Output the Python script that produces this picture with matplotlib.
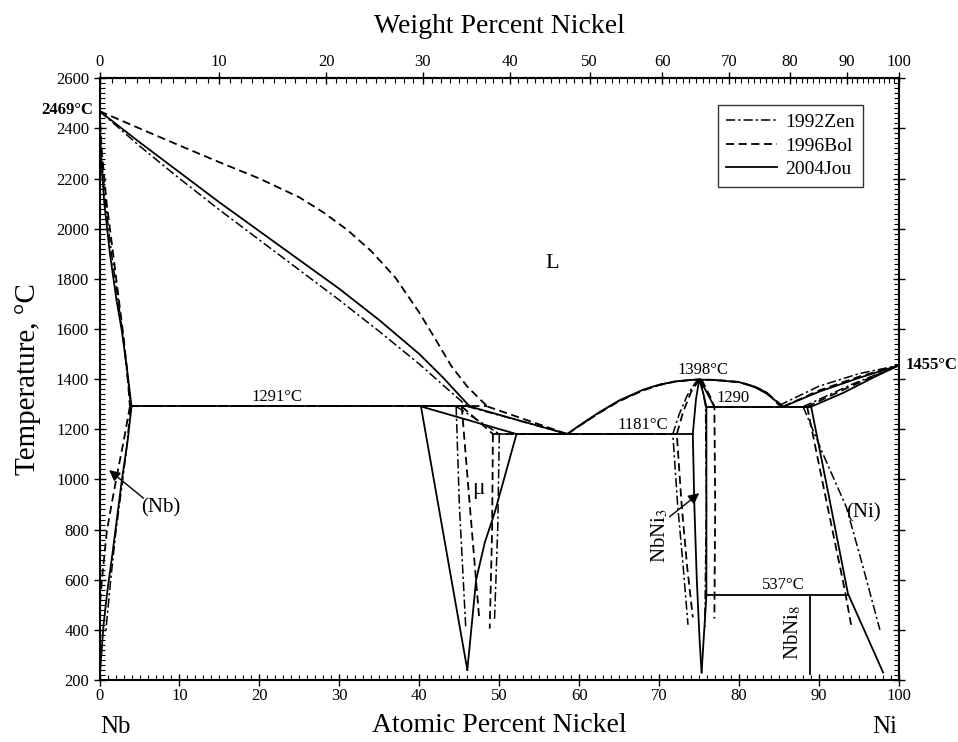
import matplotlib
matplotlib.use("Agg")
import matplotlib.pyplot as plt
from matplotlib.lines import Line2D
from matplotlib.ticker import MultipleLocator
import numpy as np

plt.rcParams['font.family'] = ['Liberation Serif', 'DejaVu Serif']
plt.rcParams['mathtext.fontset'] = 'stix'

# ---------------- 2004Jou (solid) ----------------
JOU_LIQ1_X = [0, 5, 10, 15, 20, 25, 30, 35, 40, 43, 46.3]
JOU_LIQ1_T = [2469, 2345, 2225, 2105, 1990, 1875, 1760, 1635, 1500, 1405, 1291]
JOU_LIQ2_X = [46.3, 58.5]
JOU_LIQ2_T = [1291, 1181]
JOU_LIQ3_X = [58.5, 60, 62.5, 65, 68, 70, 72, 74, 75, 77, 80, 82, 83.4, 85.5]
JOU_LIQ3_T = [1181, 1215, 1268, 1315, 1358, 1378, 1391, 1397, 1398, 1396, 1388, 1367, 1343, 1290]
JOU_LIQ4_X = [85.5, 90, 95, 100]
JOU_LIQ4_T = [1290, 1350, 1405, 1455]
JOU_NISOL_X = [89, 93, 97, 100]
JOU_NISOL_T = [1290, 1345, 1410, 1455]
JOU_NBSOL_X = [0, 0.15, 0.6, 1.3, 2.1, 2.8, 3.4, 4.0]
JOU_NBSOL_T = [2469, 2300, 2100, 1900, 1720, 1590, 1450, 1291]
JOU_NBSV_X = [4.0, 3.5, 2.8, 2.2, 1.6, 1.0, 0.5, 0.05]
JOU_NBSV_T = [1291, 1150, 1000, 850, 700, 560, 420, 225]
JOU_E1291_X = [4.0, 46.3]
JOU_E1291_T = [1291, 1291]
JOU_MUL_X = [40.2, 46.0]
JOU_MUL_T = [1291, 240]
JOU_MUR_X = [46.0, 47.1, 48.2, 49.4, 52.15]
JOU_MUR_T = [240, 600, 750, 865, 1181]
JOU_MUT_X = [40.2, 52.15]
JOU_MUT_T = [1291, 1181]
JOU_E1181_X = [52.15, 74.2]
JOU_E1181_T = [1181, 1181]
JOU_N3L_X = [75.0, 74.6, 74.2, 74.4, 74.7, 75.05, 75.3]
JOU_N3L_T = [1398, 1320, 1181, 890, 600, 360, 230]
JOU_N3R_X = [75.0, 75.5, 75.9, 75.9, 75.3]
JOU_N3R_T = [1398, 1345, 1290, 537, 230]
JOU_N3D_X = [75.1, 76.9]
JOU_N3D_T = [1398, 1290]
JOU_E1290_X = [75.9, 89.0]
JOU_E1290_T = [1290, 1290]
JOU_NISV_X = [89.0, 91.3, 93.6, 98.0]
JOU_NISV_T = [1290, 920, 545, 230]
JOU_E537_X = [75.9, 93.6]
JOU_E537_T = [537, 537]
JOU_N8_X = [88.9, 88.9]
JOU_N8_T = [537, 225]

# ---------------- 1996Bol (dashed) ----------------
BOL_LIQ1_X = [0, 5, 10, 15, 20, 25, 28, 31, 34, 37, 40, 42, 44, 46, 48.5]
BOL_LIQ1_T = [2469, 2400, 2332, 2265, 2200, 2125, 2065, 1995, 1910, 1805, 1665, 1560, 1452, 1370, 1291]
BOL_LIQ2_X = [48.5, 58.5]
BOL_LIQ2_T = [1291, 1181]
BOL_LIQ3_X = [58.5, 60, 62.5, 65, 68, 70, 72, 74, 75, 77, 80, 82, 83.4, 85.5]
BOL_LIQ3_T = [1181, 1213, 1265, 1312, 1355, 1376, 1390, 1397, 1399, 1397, 1389, 1370, 1347, 1290]
BOL_LIQ4_X = [85.5, 90, 95, 100]
BOL_LIQ4_T = [1290, 1355, 1410, 1455]
BOL_NISOL_X = [88.5, 94, 100]
BOL_NISOL_T = [1290, 1372, 1455]
BOL_NBSOL_X = [0, 0.3, 0.9, 1.7, 2.4, 3.0, 3.4, 3.8]
BOL_NBSOL_T = [2469, 2300, 2100, 1900, 1720, 1570, 1450, 1291]
BOL_NBSV_X = [3.8, 3.0, 2.2, 1.5, 0.9, 0.3, 0.05]
BOL_NBSV_T = [1291, 1150, 1020, 900, 790, 600, 500]
BOL_E1291_X = [3.8, 48.5]
BOL_E1291_T = [1291, 1291]
BOL_MUL_X = [45.3, 46.3, 47.5]
BOL_MUL_T = [1291, 900, 440]
BOL_MUT_X = [45.3, 49.2]
BOL_MUT_T = [1291, 1181]
BOL_MUR_X = [49.2, 49.1, 48.8]
BOL_MUR_T = [1181, 800, 405]
BOL_E1181_X = [49.2, 72.2]
BOL_E1181_T = [1181, 1181]
BOL_N3L_X = [75.0, 74.0, 73.0, 72.2, 72.8, 73.5, 74.2]
BOL_N3L_T = [1398, 1350, 1270, 1181, 900, 650, 450]
BOL_N3R_X = [75.3, 76.3, 76.9, 77.0, 76.9]
BOL_N3R_T = [1398, 1335, 1290, 900, 445]
BOL_E1290_X = [76.9, 88.5]
BOL_E1290_T = [1290, 1290]
BOL_NISV_X = [88.5, 91.0, 93.2, 94.0]
BOL_NISV_T = [1290, 900, 560, 420]

# ---------------- 1992Zen (dash-dot) ----------------
ZEN_LIQ1_X = [0, 5, 10, 15, 20, 25, 30, 35, 40, 43, 46.0]
ZEN_LIQ1_T = [2469, 2330, 2200, 2075, 1955, 1835, 1715, 1590, 1460, 1375, 1291]
ZEN_LIQ2_X = [46.0, 58.5]
ZEN_LIQ2_T = [1291, 1181]
ZEN_LIQ3_X = [58.5, 60, 62.5, 65, 68, 70, 72, 74, 75, 77, 80, 82, 83.4, 85.0]
ZEN_LIQ3_T = [1181, 1214, 1266, 1314, 1356, 1377, 1390, 1396, 1398, 1396, 1387, 1370, 1348, 1295]
ZEN_LIQ4_X = [85.0, 90, 95, 100]
ZEN_LIQ4_T = [1295, 1372, 1422, 1455]
ZEN_NISOL_X = [88.0, 94, 100]
ZEN_NISOL_T = [1290, 1378, 1455]
ZEN_NBSOL_X = [0, 0.2, 0.75, 1.5, 2.3, 2.9, 3.9]
ZEN_NBSOL_T = [2469, 2300, 2100, 1900, 1720, 1580, 1291]
ZEN_NBSV_X = [3.9, 3.3, 2.7, 2.0, 1.4, 0.8]
ZEN_NBSV_T = [1291, 1100, 950, 780, 600, 400]
ZEN_E1291_X = [3.9, 46.0]
ZEN_E1291_T = [1291, 1291]
ZEN_MUL_X = [44.6, 45.0, 45.8]
ZEN_MUL_T = [1291, 900, 410]
ZEN_MUT_X = [44.6, 50.0]
ZEN_MUT_T = [1291, 1181]
ZEN_MUR_X = [50.0, 49.8, 49.4]
ZEN_MUR_T = [1181, 800, 440]
ZEN_E1181_X = [50.0, 71.7]
ZEN_E1181_T = [1181, 1181]
ZEN_N3L_X = [75.0, 74.5, 73.5, 72.5, 71.7, 72.3, 73.0, 73.6]
ZEN_N3L_T = [1398, 1385, 1335, 1260, 1181, 900, 650, 420]
ZEN_N3R_X = [75.2, 75.8, 75.9, 75.7]
ZEN_N3R_T = [1398, 1290, 900, 410]
ZEN_E1290_X = [75.8, 88.0]
ZEN_E1290_T = [1290, 1290]
ZEN_NISV_X = [88.0, 90.5, 93.4, 95.5, 97.6]
ZEN_NISV_T = [1290, 1100, 890, 650, 400]

X_TICKS = [0, 10, 20, 30, 40, 50, 60, 70, 80, 90, 100]
T_TICKS = [200, 400, 600, 800, 1000, 1200, 1400, 1600, 1800, 2000, 2200, 2400, 2600]
WT_TICKS = [0, 10, 20, 30, 40, 50, 60, 70, 80, 90, 100]
LEGEND_LABELS = ['1992Zen', '1996Bol', '2004Jou']

M_NI = 58.693
M_NB = 92.906


def at2wt(x):
    x = np.asarray(x, dtype=float)
    x = np.clip(x, 0, 100)
    return 100 * x * M_NI / (x * M_NI + (100 - x) * M_NB)


def wt2at(w):
    w = np.asarray(w, dtype=float)
    w = np.clip(w, 0, 100)
    a = w / M_NI
    b = (100 - w) / M_NB
    return 100 * a / (a + b)


fig = plt.figure(figsize=(9.58, 7.42), dpi=100)
ax = fig.add_axes([0.1039, 0.0836, 0.8346, 0.8109])

solid_kw = dict(color='black', lw=1.3, linestyle='-')
dash_kw = dict(color='black', lw=1.3, linestyle=(0, (4.5, 2.5)))
dd_kw = dict(color='black', lw=1.1, linestyle=(0, (6, 2, 1.5, 2)))

jou = [(JOU_LIQ1_X, JOU_LIQ1_T), (JOU_LIQ2_X, JOU_LIQ2_T), (JOU_LIQ3_X, JOU_LIQ3_T),
       (JOU_LIQ4_X, JOU_LIQ4_T), (JOU_NISOL_X, JOU_NISOL_T), (JOU_NBSOL_X, JOU_NBSOL_T),
       (JOU_NBSV_X, JOU_NBSV_T), (JOU_E1291_X, JOU_E1291_T), (JOU_MUL_X, JOU_MUL_T),
       (JOU_MUR_X, JOU_MUR_T), (JOU_MUT_X, JOU_MUT_T), (JOU_E1181_X, JOU_E1181_T),
       (JOU_N3L_X, JOU_N3L_T), (JOU_N3R_X, JOU_N3R_T), (JOU_N3D_X, JOU_N3D_T),
       (JOU_E1290_X, JOU_E1290_T), (JOU_NISV_X, JOU_NISV_T), (JOU_E537_X, JOU_E537_T),
       (JOU_N8_X, JOU_N8_T)]
bol = [(BOL_LIQ1_X, BOL_LIQ1_T), (BOL_LIQ2_X, BOL_LIQ2_T), (BOL_LIQ3_X, BOL_LIQ3_T),
       (BOL_LIQ4_X, BOL_LIQ4_T), (BOL_NISOL_X, BOL_NISOL_T), (BOL_NBSOL_X, BOL_NBSOL_T),
       (BOL_NBSV_X, BOL_NBSV_T), (BOL_E1291_X, BOL_E1291_T), (BOL_MUL_X, BOL_MUL_T),
       (BOL_MUT_X, BOL_MUT_T), (BOL_MUR_X, BOL_MUR_T), (BOL_E1181_X, BOL_E1181_T),
       (BOL_N3L_X, BOL_N3L_T), (BOL_N3R_X, BOL_N3R_T), (BOL_E1290_X, BOL_E1290_T),
       (BOL_NISV_X, BOL_NISV_T)]
zen = [(ZEN_LIQ1_X, ZEN_LIQ1_T), (ZEN_LIQ2_X, ZEN_LIQ2_T), (ZEN_LIQ3_X, ZEN_LIQ3_T),
       (ZEN_LIQ4_X, ZEN_LIQ4_T), (ZEN_NISOL_X, ZEN_NISOL_T), (ZEN_NBSOL_X, ZEN_NBSOL_T),
       (ZEN_NBSV_X, ZEN_NBSV_T), (ZEN_E1291_X, ZEN_E1291_T), (ZEN_MUL_X, ZEN_MUL_T),
       (ZEN_MUT_X, ZEN_MUT_T), (ZEN_MUR_X, ZEN_MUR_T), (ZEN_E1181_X, ZEN_E1181_T),
       (ZEN_N3L_X, ZEN_N3L_T), (ZEN_N3R_X, ZEN_N3R_T), (ZEN_E1290_X, ZEN_E1290_T),
       (ZEN_NISV_X, ZEN_NISV_T)]

for xs, ts in zen:
    ax.plot(xs, ts, **dd_kw)
for xs, ts in bol:
    ax.plot(xs, ts, **dash_kw)
for xs, ts in jou:
    ax.plot(xs, ts, **solid_kw)

ax.set_xlim(0, 100)
ax.set_ylim(200, 2600)
ax.set_xticks(X_TICKS)
ax.set_yticks(T_TICKS)
ax.xaxis.set_minor_locator(MultipleLocator(1))
ax.yaxis.set_minor_locator(MultipleLocator(20))
ax.tick_params(axis='both', which='major', direction='inout', length=8, width=1.0,
               labelsize=12, top=False, right=True)
ax.tick_params(axis='both', which='minor', direction='in', length=3.5, width=0.8,
               top=False, right=True)
ax.tick_params(axis='x', which='major', pad=2)
for sp in ax.spines.values():
    sp.set_linewidth(1.5)

sec = ax.secondary_xaxis('top', functions=(at2wt, wt2at))
sec.set_xticks(WT_TICKS)
sec.xaxis.set_minor_locator(MultipleLocator(1))
sec.tick_params(which='major', direction='inout', length=8, width=1.0, labelsize=12, pad=2)
sec.tick_params(which='minor', direction='in', length=3.5, width=0.8)
sec.spines['top'].set_linewidth(1.5)
sec.set_xlabel('Weight Percent Nickel', fontsize=20, labelpad=15)

ax.set_xlabel('Atomic Percent Nickel', fontsize=20, labelpad=6)
ax.set_ylabel('Temperature, °C', fontsize=21, labelpad=11)

# element labels
fig.text(115 / 958, 1 - 727 / 742, 'Nb', fontsize=18, ha='center', va='center')
fig.text(885 / 958, 1 - 727 / 742, 'Ni', fontsize=18, ha='center', va='center')

# melting points
ax.text(-0.8, 2472, '2469°C', fontsize=12, fontweight='bold', ha='right', va='center')
ax.text(100.8, 1455, '1455°C', fontsize=12, fontweight='bold', ha='left', va='center')

# invariant labels
ax.text(22.2, 1296, '1291°C', fontsize=12, ha='center', va='bottom')
ax.text(67.9, 1186, '1181°C', fontsize=12, ha='center', va='bottom')
ax.text(75.5, 1405, '1398°C', fontsize=12, ha='center', va='bottom')
ax.text(79.2, 1293, '1290', fontsize=12, ha='center', va='bottom')
ax.text(85.5, 545, '537°C', fontsize=12, ha='center', va='bottom')

# phase labels
ax.text(56.6, 1860, 'L', fontsize=16, ha='center', va='center')
ax.text(47.4, 965, 'μ', fontsize=17, ha='center', va='center')
ax.text(7.6, 885, '(Nb)', fontsize=15, ha='center', va='center')
ax.text(95.6, 865, '(Ni)', fontsize=15, ha='center', va='center')
ax.text(70.1, 778, 'NbNi$_3$', fontsize=15, ha='center', va='center', rotation=90)
ax.text(86.7, 391, 'NbNi$_8$', fontsize=15, ha='center', va='center', rotation=90)

arrow_kw = dict(arrowstyle='-|>', color='black', lw=1.0, mutation_scale=16,
                shrinkA=0, shrinkB=0)
ax.annotate('', xy=(1.2, 1037), xytext=(5.5, 925), arrowprops=arrow_kw)
ax.annotate('', xy=(75.0, 945), xytext=(71.3, 851), arrowprops=arrow_kw)

handles = [Line2D([], [], **dd_kw), Line2D([], [], **dash_kw), Line2D([], [], **solid_kw)]
leg = ax.legend(handles, LEGEND_LABELS, loc='upper right', bbox_to_anchor=(0.955, 0.956),
                borderaxespad=0, fontsize=14, frameon=True, fancybox=False,
                handlelength=2.6, handletextpad=0.4, labelspacing=0.3,
                borderpad=0.45)
leg.get_frame().set_edgecolor('black')
leg.get_frame().set_linewidth(1.0)

fig.savefig('out.png', dpi=100)
